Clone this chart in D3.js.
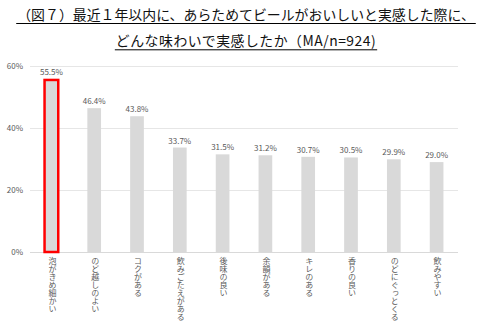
<!DOCTYPE html>
<html><head><meta charset="utf-8">
<script src="https://cdn.jsdelivr.net/npm/d3@7"></script>
<style>
body{margin:0;background:#fff;}
svg{display:block;}
</style></head>
<body>
<svg id="chart" width="491" height="330"></svg>
<script>
const categories = ["泡がきめ細かい","のど越しのよい","コクがある","飲みごたえがある","後味の良い","余韻がある","キレのある","香りの良い","のどにぐっとくる","飲みやすい"];
const values = [55.5,46.4,43.8,33.7,31.5,31.2,30.7,30.5,29.9,29.0];
const yTicks = [0,20,40,60];
const titleLines = ["（図７）最近１年以内に、あらためてビールがおいしいと実感した際に、","どんな味わいで実感したか（MA/n=924)"];

(function(){
const svg = d3.select("#chart");
const font = "'Noto Sans CJK JP', 'Noto Sans', sans-serif";
const pLeft = 30, pRight = 458, pTop = 66, pBottom = 252;

const x = d3.scaleBand().domain(categories).range([pLeft, pRight]).paddingInner(0.68).paddingOuter(0.34);
const y = d3.scaleLinear().domain([0,60]).range([pBottom, pTop]);

// title
const tg = svg.append("g");
titleLines.forEach((t,i)=>{
  const txt = tg.append("text").attr("x",246).attr("y",19.5+i*26.3)
    .attr("text-anchor","middle").attr("font-family",font).attr("font-size",13.9)
    .attr("letter-spacing", i===1 ? 0.5 : 0)
    .attr("fill","#111").text(t);
  const bb = txt.node().getBBox();
  tg.append("line").attr("x1",bb.x-1).attr("x2",bb.x+bb.width+1)
    .attr("y1",23.5+i*26.3).attr("y2",23.5+i*26.3).attr("stroke","#000").attr("stroke-width",1);
});

// gridlines
svg.append("g").selectAll("line").data(yTicks).join("line")
  .attr("x1",pLeft).attr("x2",pRight)
  .attr("y1",d=>Math.round(y(d))+0.5).attr("y2",d=>Math.round(y(d))+0.5)
  .attr("stroke",d=>d===0?"#d9d9d9":"#e6e6e6").attr("stroke-width",1);

// y labels
svg.append("g").selectAll("text").data(yTicks).join("text")
  .attr("x",23).attr("y",d=>y(d)+3)
  .attr("text-anchor","end").attr("font-family",font).attr("font-size",8)
  .attr("fill","#595959").text(d=>d+"%");

// bars
svg.append("g").selectAll("rect").data(values).join("rect")
  .attr("x",(d,i)=>x(categories[i]))
  .attr("y",d=>y(d))
  .attr("width",x.bandwidth())
  .attr("height",d=>y(0)-y(d))
  .attr("fill","#d9d9d9")
  .attr("stroke",(d,i)=>i===0?"#ff0000":"none")
  .attr("stroke-width",2.5);

// value labels
svg.append("g").selectAll("text").data(values).join("text")
  .attr("x",(d,i)=>x(categories[i])+x.bandwidth()/2)
  .attr("y",(d,i)=>y(d)-(i===0?5:4))
  .attr("text-anchor","middle").attr("font-family",font).attr("font-size",8)
  .attr("fill","#595959").text(d=>d.toFixed(1)+"%");

// category labels (vertical)
svg.append("g").selectAll("text").data(categories).join("text")
  .attr("x",d=>x(d)+x.bandwidth()/2+1)
  .attr("y",257)
  .attr("font-family",font).attr("font-size",8)
  .attr("fill","#595959")
  .style("writing-mode","vertical-rl")
  .text(d=>d);
})();
</script>
</body></html>
